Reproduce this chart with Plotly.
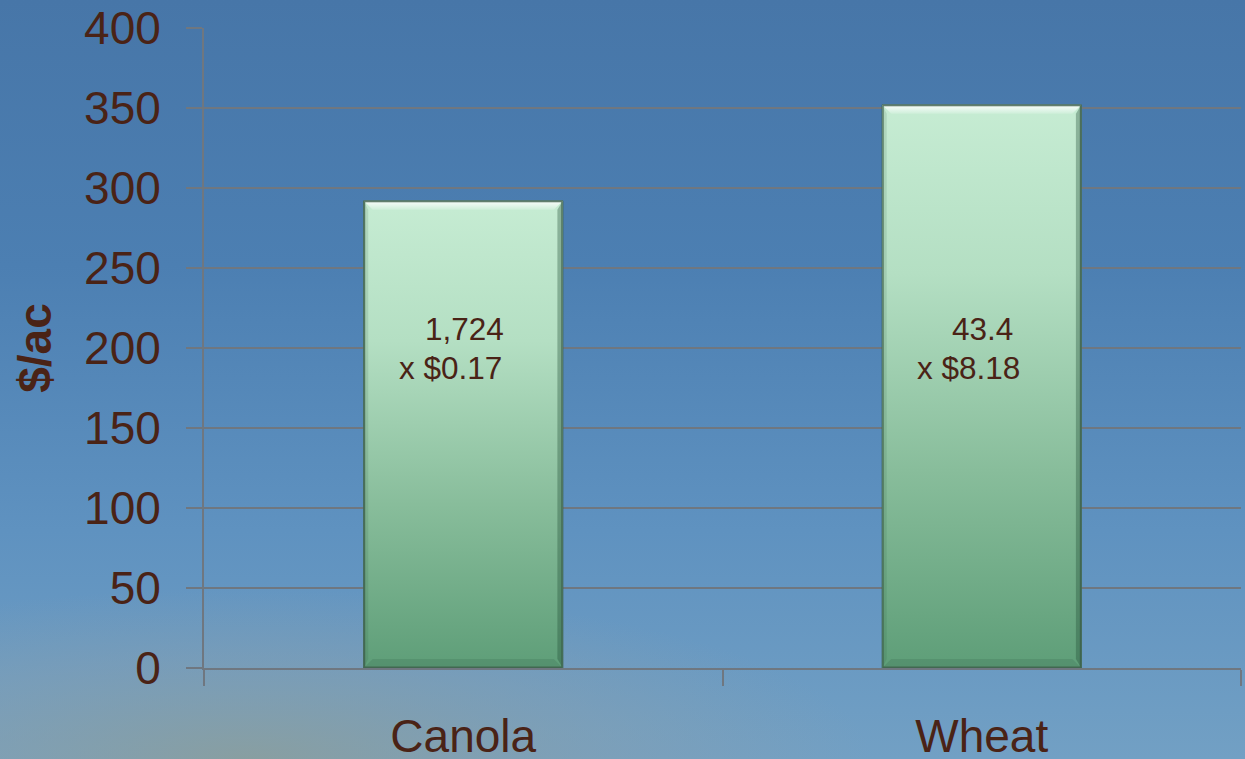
import base64
import plotly.graph_objects as go

# ---- data ----
categories = ["Canola", "Wheat"]
values = [292, 352]            # $/ac
yields_txt = ["1,724", "43.4"]
prices_txt = ["$0.17", "$8.18"]
y_ticks = [0, 50, 100, 150, 200, 250, 300, 350, 400]

# ---- style ----
W, H = 1245, 759
ML, MR, MT, MB = 204, 4, 28, 91
PW, PH = W - ML - MR, H - MT - MB
YMAX = 400
BAR_W = 0.384
TXT = "#4a2316"
GRID = "#6f7780"
FONT = "Arial, Liberation Sans, sans-serif"


def svg_uri(svg):
    return "data:image/svg+xml;base64," + base64.b64encode(svg.encode()).decode()


bg_svg = f"""<svg xmlns='http://www.w3.org/2000/svg' width='{W}' height='{H}' viewBox='0 0 {W} {H}' preserveAspectRatio='none'>
<defs>
<linearGradient id='g' x1='0' y1='0' x2='0' y2='1'>
<stop offset='0' stop-color='#4776a8'/>
<stop offset='0.35' stop-color='#4c7fb2'/>
<stop offset='0.7' stop-color='#5f92c0'/>
<stop offset='1' stop-color='#72a0c4'/>
</linearGradient>
<radialGradient id='r' cx='0.2' cy='1' r='0.5' gradientTransform='translate(0.2,1) scale(1,0.45) translate(-0.2,-1)'>
<stop offset='0' stop-color='#8e9e98' stop-opacity='0.8'/>
<stop offset='0.6' stop-color='#8aa0ac' stop-opacity='0.4'/>
<stop offset='1' stop-color='#8aa0ac' stop-opacity='0'/>
</radialGradient>
</defs>
<rect width='{W}' height='{H}' fill='url(#g)'/>
<rect width='{W}' height='{H}' fill='url(#r)'/>
</svg>"""


def bar_svg(hpx, wpx=199, b=9):
    return f"""<svg xmlns='http://www.w3.org/2000/svg' width='{wpx}' height='{hpx}' viewBox='0 0 {wpx} {hpx}' preserveAspectRatio='none'>
<defs>
<linearGradient id='g' x1='0' y1='0' x2='0' y2='1'>
<stop offset='0' stop-color='#c6ecd3'/>
<stop offset='0.3' stop-color='#b4dfc3'/>
<stop offset='0.65' stop-color='#88bd9b'/>
<stop offset='1' stop-color='#5e9e78'/>
</linearGradient>
<linearGradient id='t' x1='0' y1='0' x2='0' y2='1'>
<stop offset='0' stop-color='#ffffff' stop-opacity='0.95'/>
<stop offset='1' stop-color='#ffffff' stop-opacity='0.15'/>
</linearGradient>
</defs>
<rect width='{wpx}' height='{hpx}' fill='url(#g)'/>
<polygon points='0,0 {wpx},0 {wpx-b},{b} {b},{b}' fill='url(#t)'/>
<polygon points='{wpx},0 {wpx},{hpx} {wpx-b*0.6},{hpx-b} {wpx-b*0.6},{b}' fill='#1f4a33' fill-opacity='0.35'/>
<polygon points='0,{hpx} {wpx},{hpx} {wpx-b},{hpx-b} {b},{hpx-b}' fill='#1f4a33' fill-opacity='0.15'/>
<polygon points='0,0 {b*0.5},{b} {b*0.5},{hpx-b} 0,{hpx}' fill='#1f4a33' fill-opacity='0.12'/>
<rect x='0.75' y='0.75' width='{wpx-1.5}' height='{hpx-1.5}' fill='none' stroke='#3c5e4a' stroke-width='1.5' stroke-opacity='0.8'/>
</svg>"""


fig = go.Figure()
fig.add_trace(go.Bar(
    x=categories, y=values, width=BAR_W,
    marker=dict(color="#93c6a3", line=dict(color="#3c5e4a", width=1)),
    hoverinfo="skip", showlegend=False,
))

images = [dict(
    source=svg_uri(bg_svg), xref="paper", yref="paper",
    x=-ML / PW, y=1 + MT / PH, sizex=W / PW, sizey=H / PH,
    xanchor="left", yanchor="top", sizing="stretch", layer="below",
)]
n = len(categories)
for i, v in enumerate(values):
    hpx = round(v / YMAX * PH)
    images.append(dict(
        source=svg_uri(bar_svg(hpx)), xref="x domain", yref="y",
        x=(i + 0.5 - BAR_W / 2) / n, y=v, sizex=BAR_W / n, sizey=v,
        xanchor="left", yanchor="top", sizing="stretch", layer="above",
    ))

annotations = []
for c, yt, pt in zip(categories, yields_txt, prices_txt):
    annotations.append(dict(x=c, y=212, xref="x", yref="y", text=yt, showarrow=False,
                            font=dict(family=FONT, size=31.5, color=TXT), xshift=1))
    annotations.append(dict(x=c, y=187.5, xref="x", yref="y", text="x " + pt, showarrow=False,
                            font=dict(family=FONT, size=31.5, color=TXT), xshift=-13))

fig.update_layout(
    width=W, height=H,
    margin=dict(l=ML, r=MR, t=MT, b=MB, autoexpand=False),
    paper_bgcolor="#5a8cbc", plot_bgcolor="rgba(0,0,0,0)",
    images=images, annotations=annotations,
    bargap=0.616,
    font=dict(family=FONT, color=TXT),
)
fig.update_xaxes(
    type="category", range=[-0.5, 1.5], tickson="boundaries",
    ticks="outside", ticklen=16, tickwidth=2, tickcolor=GRID,
    showline=True, linecolor=GRID, linewidth=2,
    showgrid=False, tickfont=dict(family=FONT, size=46, color=TXT),
    ticklabelstandoff=27, automargin=False,
)
fig.update_yaxes(
    range=[0, YMAX], tickvals=y_ticks,
    ticks="outside", ticklen=16, tickwidth=2, tickcolor=GRID,
    showline=True, linecolor=GRID, linewidth=2,
    showgrid=True, gridcolor=GRID, gridwidth=1.5, zeroline=False,
    tickfont=dict(family=FONT, size=46, color=TXT),
    ticklabelstandoff=16, automargin=False,
    title=dict(text="<b>$/ac</b>", font=dict(family=FONT, size=46, color=TXT), standoff=18),
)

fig.write_html(
    "out.html",
    config={"displayModeBar": False},
    post_script="document.body.style.margin='0';document.body.style.padding='0';"
                "document.documentElement.style.overflow='hidden';",
)
